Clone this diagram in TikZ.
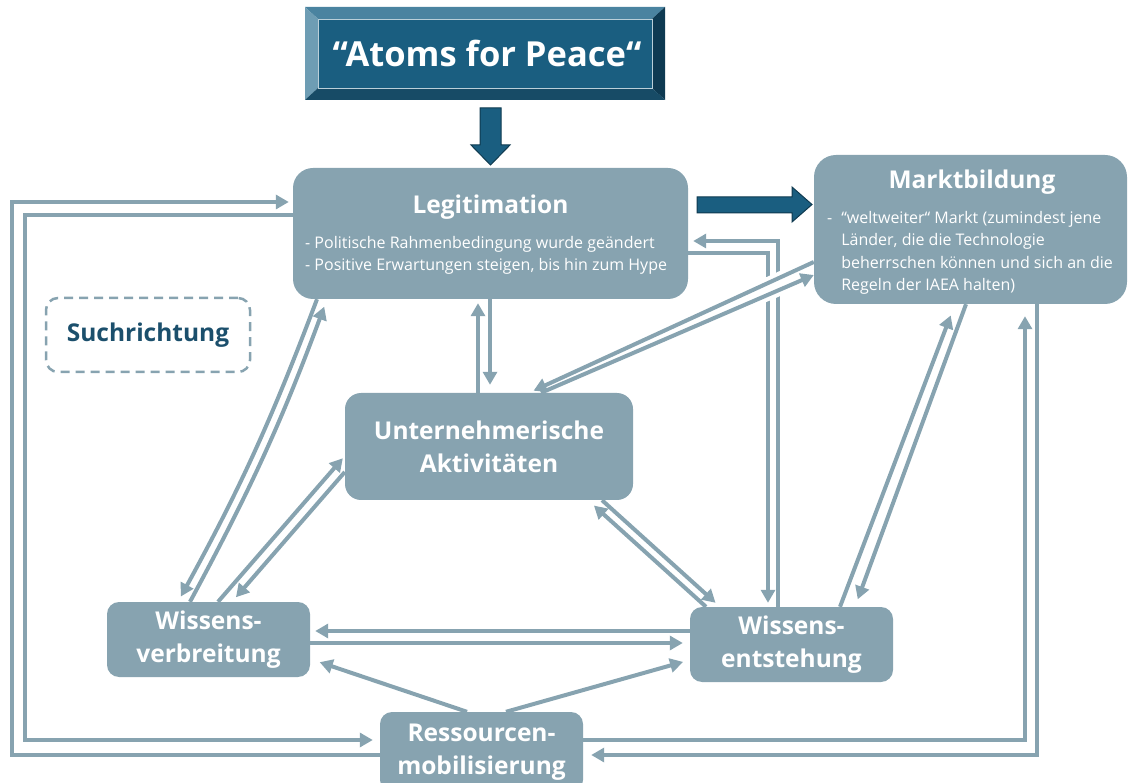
\documentclass[tikz,border=0pt]{standalone}
\usepackage{fontspec}
\setmainfont{Open Sans}
\usetikzlibrary{arrows.meta, calc, backgrounds}

\definecolor{boxblue}{HTML}{87A3B0}
\definecolor{deepblue}{HTML}{1A5E80}
\definecolor{darkedge}{HTML}{0F3A50}
\definecolor{suchblue}{HTML}{1B4F6C}
\definecolor{bevtop}{HTML}{4A83A0}
\definecolor{bevleft}{HTML}{6E9DB4}
\definecolor{bevright}{HTML}{0E3A52}
\definecolor{bevbottom}{HTML}{174B66}

\begin{document}
\begin{tikzpicture}[x=1pt, y=-1pt, >={Triangle[length=13pt,width=14pt]},
    box/.style={fill=boxblue, rounded corners=12pt, inner sep=0pt, text=white, align=center,
        font=\bfseries\fontsize{24.5}{33}\selectfont},
    title/.style={text=white, inner sep=0pt, font=\bfseries\fontsize{24.5}{28}\selectfont},
    bullets/.style={text=white, inner sep=0pt, align=left, font=\fontsize{16}{22.5}\selectfont},
    conn/.style={draw=boxblue, line width=4pt, ->},
    halo/.style={draw=white, line width=12pt},
    blockarrow/.style={fill=deepblue, draw=darkedge, line width=1pt}]
    \useasboundingbox (0,0) rectangle (1128,783);

    % boxes
    \node[box, minimum width=395pt, minimum height=131pt, rounded corners=20pt] (leg) at (490.5,233.5) {};
    \node[title] (legtitle) at (490.5,207) {Legitimation};
    \node[bullets, anchor=west] (legtext) at (305,255.5) {- Politische Rahmenbedingung wurde geändert\\- Positive Erwartungen steigen, bis hin zum Hype};

    \node[box, minimum width=313pt, minimum height=149pt, rounded corners=22pt] (markt) at (970.5,229.5) {};
    \node[title] (markttitle) at (972,182) {Marktbildung};
    \node[bullets, anchor=west] (markttext) at (827,252.5) {\begin{tabular}{@{}l@{\hspace{9pt}}l@{}}-&“weltweiter“ Markt (zumindest jene\\&Länder, die die Technologie\\&beherrschen können und sich an die\\&Regeln der IAEA halten)\end{tabular}};

    \node[box, minimum width=288pt, minimum height=107pt, rounded corners=16pt] (unt) at (489,446.5) {Unternehmerische\\Aktivitäten};
    \node[box, minimum width=203pt, minimum height=75pt] (wver) at (208.5,639.5) {Wissens-\\verbreitung};
    \node[box, minimum width=203pt, minimum height=75pt] (went) at (791.5,644.5) {Wissens-\\entstehung};
    \node[box, minimum width=203pt, minimum height=80pt] (res) at (481.5,752) {Ressourcen-\\mobilisierung};

    \node[draw=boxblue, line width=2.5pt, dash pattern=on 9pt off 6pt, rounded corners=12pt,
        minimum width=204pt, minimum height=74pt, text=suchblue,
        font=\bfseries\fontsize{24.5}{28}\selectfont] (such) at (148,335) {Suchrichtung};

    % connectors behind the boxes
    \begin{scope}[on background layer]
    \draw[conn, shorten >=4pt] (unt.north -| 478,0) -- (leg.south -| 478,0);
    \draw[conn, shorten >=8pt] (leg.south -| 490,0) -- (unt.north -| 490,0);
    \draw[conn, shorten >=4pt] (leg.east |- 0,253) -- (768,253) -- (went.north -| 768,0);
    \draw[conn, shorten >=5pt] (went.north -| 778,0) -- (778,241) -- (leg.east |- 0,241);
    \draw[halo] (markt.west |- 0,262) -- (unt.north -| 529,0);
    \draw[halo] (unt.north -| 541,0) -- (markt.west |- 0,275);
    \draw[conn, shorten >=5pt] (markt.west |- 0,262) -- (unt.north -| 529,0);
    \draw[conn] (unt.north -| 541,0) -- (markt.west |- 0,275);
    \draw[conn, shorten >=12pt] (went.north -| 840,0) -- (markt.south -| 955,0);
    \draw[conn, shorten >=8pt] (markt.south -| 966,0) -- (went.north -| 855,0);
    \draw[conn, shorten >=12pt] (res.east |- 0,740) -- (1025,740) -- (markt.south -| 1025,0);
    \draw[conn, shorten >=8pt] (markt.south -| 1037,0) -- (1037,755) -- (res.east |- 0,755);
    \draw[conn, shorten >=4pt] (res.west |- 0,755) -- (12,755) -- (12,202) -- (leg.west |- 0,202);
    \draw[conn, shorten >=7pt] (leg.west |- 0,215) -- (25,215) -- (25,740) -- (res.west |- 0,740);
    \draw[conn, shorten >=5pt] (went.west |- 0,631) -- (wver.east |- 0,631);
    \draw[conn, shorten >=7pt] (wver.east |- 0,643) -- (went.west |- 0,643);
    \draw[conn, shorten >=10pt] (res.north -| 467,0) -- (wver.east |- 0,659);
    \draw[conn, shorten >=7pt] (res.north -| 506,0) -- (went.west |- 0,660);
    \draw[conn, shorten >=8pt] (went.north -| 706,0) -- (unt.south -| 588,0);
    \draw[conn, shorten >=6pt] (unt.south -| 602,0) -- (went.north -| 720,0);
    \draw[conn, shorten >=3pt] (wver.north -| 218,0) -- (unt.west |- 0,456);
    \draw[conn, shorten >=6pt] (unt.west |- 0,472) -- (wver.north -| 232,0);
    \draw[conn, shorten >=8pt] (wver.north -| 190,0) to[bend right=4] (leg.south -| 327,0);
    \draw[conn, shorten >=6pt] (leg.south -| 317,0) to[bend left=4] (wver.north -| 178,0);
    \end{scope}

    % bevelled title box
    \fill[bevtop] (305,7) -- (665,7) -- (652,19) -- (318,19) -- cycle;
    \fill[bevleft] (305,7) -- (318,19) -- (318,88) -- (305,100) -- cycle;
    \fill[bevright] (665,7) -- (665,100) -- (652,88) -- (652,19) -- cycle;
    \fill[bevbottom] (305,100) -- (665,100) -- (652,88) -- (318,88) -- cycle;
    \draw[fill=deepblue, draw=white!70!deepblue, line width=0.8pt] (318,19) rectangle (652,88);
    \node[text=white, inner sep=0pt, font=\bfseries\fontsize{34.5}{40}\selectfont] (atoms) at (487,53.5) {“Atoms for Peace“};

    % block arrows
    \draw[blockarrow] (480,108) -- (501,108) -- (501,145) -- (510,145) -- (490.5,165) -- (471,145) -- (480,145) -- cycle;
    \draw[blockarrow] (697,197) -- (792,197) -- (792,187) -- (812,204.5) -- (792,222) -- (792,213) -- (697,213) -- cycle;
\end{tikzpicture}
\end{document}
